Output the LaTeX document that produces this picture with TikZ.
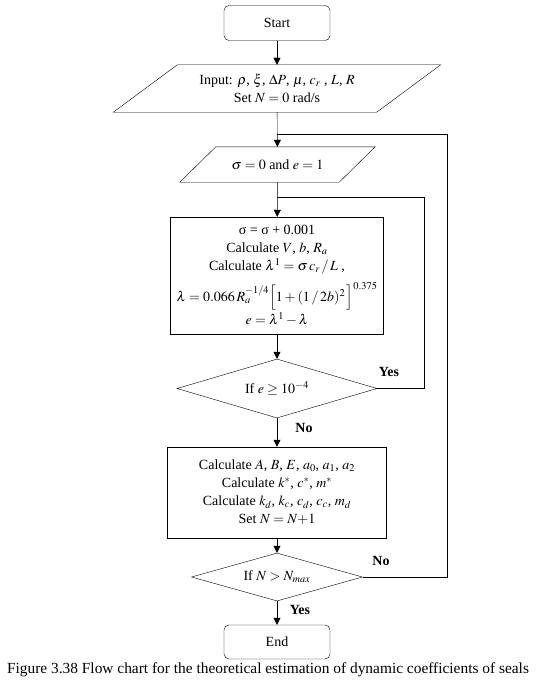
\documentclass[tikz,border=0pt]{standalone}
\usepackage{mathptmx}
\usepackage[no-math]{fontspec}
\setmainfont{Liberation Serif}
\usepackage{tikz}
\usetikzlibrary{arrows.meta,positioning,calc,shapes.geometric}

\begin{document}
\begin{tikzpicture}[
      x=1pt, y=-1pt,
      font=\fontsize{14}{18}\selectfont,
      terminal/.style={draw, rounded corners=5pt, minimum width=106pt, minimum height=35pt, inner sep=0pt},
      process/.style={draw, align=center, inner sep=0pt},
      iobox/.style={align=center, inner sep=0pt},
      decision/.style={draw, diamond, aspect=3, inner sep=0pt},
      lbl/.style={font=\fontsize{14}{16}\selectfont\bfseries},
      arrow/.style={-{Triangle[length=7pt,width=7pt]}},
      line/.style={draw}
  ]
    \useasboundingbox (0,0) rectangle (536,685);

    \node[terminal] (start) at (277,23) {Start};

    \node[iobox, minimum width=263pt, minimum height=47pt] (input) at (277,88.5)
      {Input: $\rho$, $\xi$, $\Delta P$, $\mu$, $c_r$ , $L$, $R$\\ Set $N = 0$ rad/s};
    \draw ($(input.north west)+(32,0)$) -- ($(input.north east)+(32,0)$)
      -- ($(input.south east)-(32,0)$) -- ($(input.south west)-(32,0)$) -- cycle;

    \node[iobox, minimum width=159pt, minimum height=35pt] (sigma) at (277.5,164.5)
      {$\sigma = 0$ and $e = 1$};
    \draw ($(sigma.north west)+(18,0)$) -- ($(sigma.north east)+(18,0)$)
      -- ($(sigma.south east)-(18,0)$) -- ($(sigma.south west)-(18,0)$) -- cycle;

    \node[process, minimum width=213pt, minimum height=117pt] (calc1) at (277,275.5)
      {σ = σ + 0.001\\
       Calculate $V$, $b$, $R_a$\\
       Calculate $\lambda^1 = \sigma\, c_r\,/\,L$ ,\\[7pt]
       $\lambda = 0.066\,R_a^{-1/4}\Bigl[1+(1\,/\,2b)^2\,\Bigr]^{0.375}$\\[1pt]
       $e = \lambda^1 - \lambda$};

    \node[decision, minimum width=200pt, minimum height=59pt] (check1) at (277,388.5)
      {If $e \geq 10^{-4}$};

    \node[process, minimum width=219pt, minimum height=91pt] (calc2) at (277,492.5)
      {Calculate $A$, $B$, $E$, $a_0$, $a_1$, $a_2$\\
       Calculate $k^{*}$, $c^{*}$, $m^{*}$\\
       Calculate $k_d$, $k_c$, $c_d$, $c_c$, $m_d$\\
       Set $N = N{+}1$};

    \node[decision, minimum width=171pt, minimum height=48pt] (check2) at (277,577)
      {If $N > N_{max}$};

    \node[terminal, minimum height=34pt] (stop) at (277,642) {End};

    \node[font=\fontsize{15.4}{18}\selectfont] (caption) at (268,670)
      {Figure 3.38 Flow chart for the theoretical estimation of dynamic coefficients of seals};

    % loop-back points
    \coordinate (joinA) at (277,134);
    \coordinate (loopA) at (447,134);
    \coordinate (joinB) at (277,197);
    \coordinate (loopB) at (424,197);

    \draw[arrow] (start) -- (input);
    \draw[arrow] (input) -- (sigma);
    \draw[arrow] (sigma) -- (calc1);
    \draw[arrow] (calc1) -- (check1);
    \draw[arrow] (check1) -- (calc2);
    \draw[arrow] (calc2) -- (check2);
    \draw[arrow] (check2) -- (stop);
    \draw[line] (check1.east) -| (loopB) -- (joinB);
    \draw[line] (check2.east) -| (loopA) -- (joinA);

    \node[lbl] (yes1) at (389,372) {Yes};
    \node[lbl] (no1) at (304,428) {No};
    \node[lbl] (no2) at (381,561) {No};
    \node[lbl] (yes2) at (300,610) {Yes};
  \end{tikzpicture}
\end{document}
